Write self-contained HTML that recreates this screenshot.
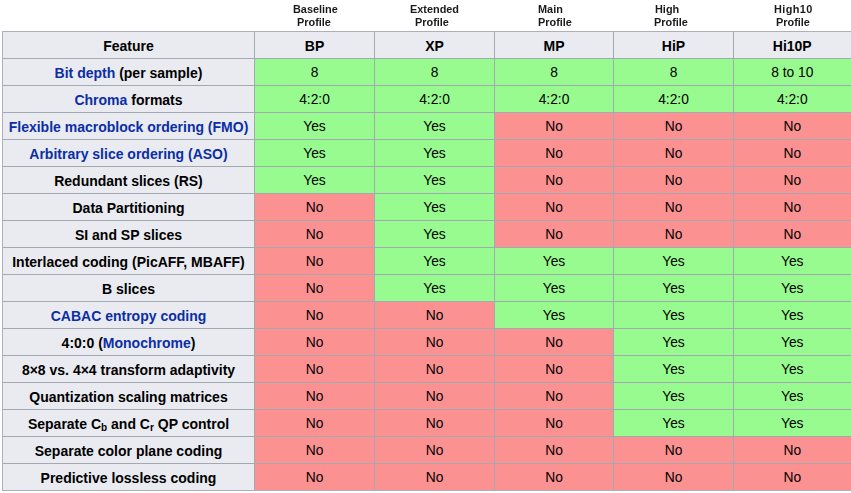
<!DOCTYPE html>
<html><head><meta charset="utf-8">
<style>
html,body{margin:0;padding:0;background:#fff;}
body{width:851px;height:493px;overflow:hidden;position:relative;font-family:"Liberation Sans",sans-serif;color:#000;}
.c{position:absolute;font-size:10.9px;line-height:13px;font-weight:bold;color:#1a1a1a;white-space:nowrap;will-change:transform;}
.c1{top:2.5px;}
.c2{top:15.5px;}
.grid{position:absolute;left:2px;top:31px;width:849px;height:460px;background:#a2a9b1;box-sizing:border-box;padding:0;border:1px solid #abb1ba;border-right:0;
display:grid;grid-template-columns:251px 119px 119px 118px 119px 118px;grid-auto-rows:26px;gap:1px;}
.grid>div{display:flex;align-items:center;justify-content:center;font-size:13.8px;white-space:nowrap;line-height:26px;}
.grid>.h{font-size:14px;}
.grid>div{box-sizing:border-box;padding-top:2px;}
.grid>div:nth-child(6n){padding-right:1.5px;}
.h{background:#e9ebf0;font-weight:bold;}
.y{background:#98fb8f;}
.n{background:#fc9192;}
.l{color:#0b2ea6;}
sub{font-size:10px;vertical-align:baseline;position:relative;top:2px;line-height:0;}
</style></head><body>
<div class="c c1" style="left:293px;">Baseline</div><div class="c c2" style="left:296.5px">Profile</div>
<div class="c c1" style="left:410px;">Extended</div><div class="c c2" style="left:415px">Profile</div>
<div class="c c1" style="left:538px;">Main</div><div class="c c2" style="left:537.5px">Profile</div>
<div class="c c1" style="left:655px;">High</div><div class="c c2" style="left:654px">Profile</div>
<div class="c c1" style="left:774px; letter-spacing:0.4px;">High10</div><div class="c c2" style="left:776px">Profile</div>
<div class="grid">
<div class="h"><span>Feature</span></div><div class="h"><span>BP</span></div><div class="h"><span>XP</span></div><div class="h"><span>MP</span></div><div class="h"><span>HiP</span></div><div class="h"><span>Hi10P</span></div>
<div class="h"><span><span class="l">Bit depth</span> (per sample)</span></div><div class="y"><span>8</span></div><div class="y"><span>8</span></div><div class="y"><span>8</span></div><div class="y"><span>8</span></div><div class="y"><span>8 to 10</span></div>
<div class="h"><span><span class="l">Chroma</span> formats</span></div><div class="y"><span>4:2:0</span></div><div class="y"><span>4:2:0</span></div><div class="y"><span>4:2:0</span></div><div class="y"><span>4:2:0</span></div><div class="y"><span>4:2:0</span></div>
<div class="h"><span class="l">Flexible macroblock ordering (FMO)</span></div><div class="y"><span>Yes</span></div><div class="y"><span>Yes</span></div><div class="n"><span>No</span></div><div class="n"><span>No</span></div><div class="n"><span>No</span></div>
<div class="h"><span class="l">Arbitrary slice ordering (ASO)</span></div><div class="y"><span>Yes</span></div><div class="y"><span>Yes</span></div><div class="n"><span>No</span></div><div class="n"><span>No</span></div><div class="n"><span>No</span></div>
<div class="h"><span>Redundant slices (RS)</span></div><div class="y"><span>Yes</span></div><div class="y"><span>Yes</span></div><div class="n"><span>No</span></div><div class="n"><span>No</span></div><div class="n"><span>No</span></div>
<div class="h"><span>Data Partitioning</span></div><div class="n"><span>No</span></div><div class="y"><span>Yes</span></div><div class="n"><span>No</span></div><div class="n"><span>No</span></div><div class="n"><span>No</span></div>
<div class="h"><span>SI and SP slices</span></div><div class="n"><span>No</span></div><div class="y"><span>Yes</span></div><div class="n"><span>No</span></div><div class="n"><span>No</span></div><div class="n"><span>No</span></div>
<div class="h"><span>Interlaced coding (PicAFF, MBAFF)</span></div><div class="n"><span>No</span></div><div class="y"><span>Yes</span></div><div class="y"><span>Yes</span></div><div class="y"><span>Yes</span></div><div class="y"><span>Yes</span></div>
<div class="h"><span>B slices</span></div><div class="n"><span>No</span></div><div class="y"><span>Yes</span></div><div class="y"><span>Yes</span></div><div class="y"><span>Yes</span></div><div class="y"><span>Yes</span></div>
<div class="h"><span class="l">CABAC entropy coding</span></div><div class="n"><span>No</span></div><div class="n"><span>No</span></div><div class="y"><span>Yes</span></div><div class="y"><span>Yes</span></div><div class="y"><span>Yes</span></div>
<div class="h"><span>4:0:0 (<span class="l">Monochrome</span>)</span></div><div class="n"><span>No</span></div><div class="n"><span>No</span></div><div class="n"><span>No</span></div><div class="y"><span>Yes</span></div><div class="y"><span>Yes</span></div>
<div class="h"><span>8×8 vs. 4×4 transform adaptivity</span></div><div class="n"><span>No</span></div><div class="n"><span>No</span></div><div class="n"><span>No</span></div><div class="y"><span>Yes</span></div><div class="y"><span>Yes</span></div>
<div class="h"><span>Quantization scaling matrices</span></div><div class="n"><span>No</span></div><div class="n"><span>No</span></div><div class="n"><span>No</span></div><div class="y"><span>Yes</span></div><div class="y"><span>Yes</span></div>
<div class="h"><span>Separate C<sub>b</sub> and C<sub>r</sub> QP control</span></div><div class="n"><span>No</span></div><div class="n"><span>No</span></div><div class="n"><span>No</span></div><div class="y"><span>Yes</span></div><div class="y"><span>Yes</span></div>
<div class="h"><span>Separate color plane coding</span></div><div class="n"><span>No</span></div><div class="n"><span>No</span></div><div class="n"><span>No</span></div><div class="n"><span>No</span></div><div class="n"><span>No</span></div>
<div class="h"><span>Predictive lossless coding</span></div><div class="n"><span>No</span></div><div class="n"><span>No</span></div><div class="n"><span>No</span></div><div class="n"><span>No</span></div><div class="n"><span>No</span></div>
</div>
</body></html>
